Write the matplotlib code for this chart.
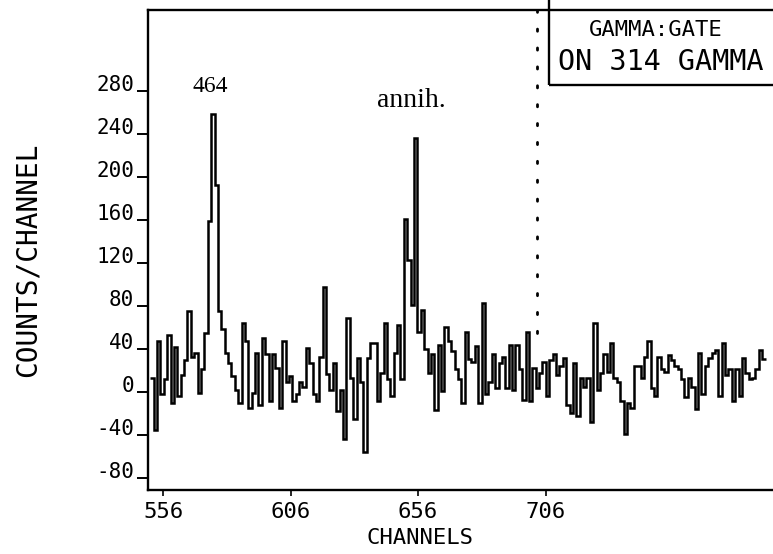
import numpy as np
import matplotlib
matplotlib.use("Agg")
from matplotlib import pyplot as plt
from matplotlib.patches import Rectangle

# counts per bin, read left to right off the scan
seg1 = [13, -35, 47, -2, 12, 53, -10, 42, -4, 16, 30, 75, 33, 36, -1, 21, 55, 159, 258, 192,
        75, 59, 36, 27, 15, 2, -10, 64, 47]
seg2 = [-15, -1, 36, -12, 50, 35, -8, 35, 22, -15, 47, 9, 15, -8, -2, 9, 5, 41, 27, -2,
        -8, 33, 98, 17, 2, 27, -18, 2, -44]
seg3 = [69, 13, -25, 32, 9, -56, 32, 46, 46, -8, 18, 64, 12, -4, 36, 62, 12, 161, 123, 81,
        236, 56, 76, 40, 18, 35, -17, 44, 1, 60]
seg4 = [47, 38, 21, 12, -10, 56, 31, 28, 43, -10, 83, -2, 9, 35, 4, 27, 33, 4, 44, 2,
        44, 21, -7, 56, -8, 22, 4, 18, 28, -4]
seg5 = [30, 35, 16, 24, 32, -12, -19, 27, -22, 13, 5, 13, -28, 64, 2, 18, 35, 19, 46, 13,
        9, -8, -39, -10, -15, 24, 24, 13, 33]
seg6 = [47, 4, -4, 33, 21, 19, 34, 30, 24, 21, 12, -5, 13, 5, -16, 36, -2, 24, 32, 36,
        39, -4, 46, 16, 21, -8, 21, -4, 32, 18, 12, 13, 21, 39, 31]
counts = np.array(seg1 + seg2 + seg3 + seg4 + seg5 + seg6)

first_ch = 551.0
last_ch = 792.3
gate_ch = 702.7
gate_top = 55
xticks = [556, 606, 656, 706]
yticks = [-80, -40, 0, 40, 80, 120, 160, 200, 240, 280]

mono = "DejaVu Sans Mono"
serif = "Liberation Serif"

fig = plt.figure(figsize=(7.73, 5.54), dpi=100)
ax = fig.add_axes([148/773, 1-490/554, 625/773, 480/554])

edges = np.linspace(first_ch, last_ch, len(counts)+1)
ax.stairs(counts, edges, baseline=None, color="k", lw=1.8)

ax.set_xlim(550.1, 795.2)
ax.set_ylim(-91, 355)

# gate marker
ax.plot([gate_ch, gate_ch], [gate_top, 355], color="k", lw=2,
        linestyle=(0, (0.8, 6)), dash_capstyle="round")

for s in ["left", "top", "bottom"]:
    ax.spines[s].set_linewidth(1.7)
ax.spines["right"].set_visible(False)

ax.set_xticks(xticks)
ax.set_xticklabels([str(v) for v in xticks], fontfamily=mono, fontsize=16)
ax.set_yticks(yticks)
ax.set_yticklabels([str(v) for v in yticks], fontfamily=mono, fontsize=15)
for t in ax.get_yticklabels():
    t.set_va("baseline")
ax.tick_params(axis="y", direction="out", length=8, width=1.4, pad=2)
ax.tick_params(axis="x", direction="out", length=4, width=1.2, pad=5)

# label box
ax.add_patch(Rectangle((0.642, 0.844), 0.4, 0.2, transform=ax.transAxes,
                       fill=False, lw=1.7, ec="k", clip_on=False))
ax.text(0.813, 0.958, "GAMMA:GATE", transform=ax.transAxes, ha="center", va="center",
        fontfamily=mono, fontsize=16)
ax.text(0.82, 0.892, "ON 314 GAMMA", transform=ax.transAxes, ha="center", va="center",
        fontfamily=mono, fontsize=20.5)

ax.text(574.4, 284, "464", ha="center", va="center", fontfamily=serif, fontsize=17)
ax.text(653.5, 271, "annih.", ha="center", va="center", fontfamily=serif, fontsize=20)

fig.text(28/773, 1-260/554, "COUNTS/CHANNEL", rotation=90, ha="center", va="center",
         fontfamily=mono, fontsize=20)
fig.text(420/773, 1-538/554, "CHANNELS", ha="center", va="center",
         fontfamily=mono, fontsize=16)

fig.savefig("out.png", dpi=100)
